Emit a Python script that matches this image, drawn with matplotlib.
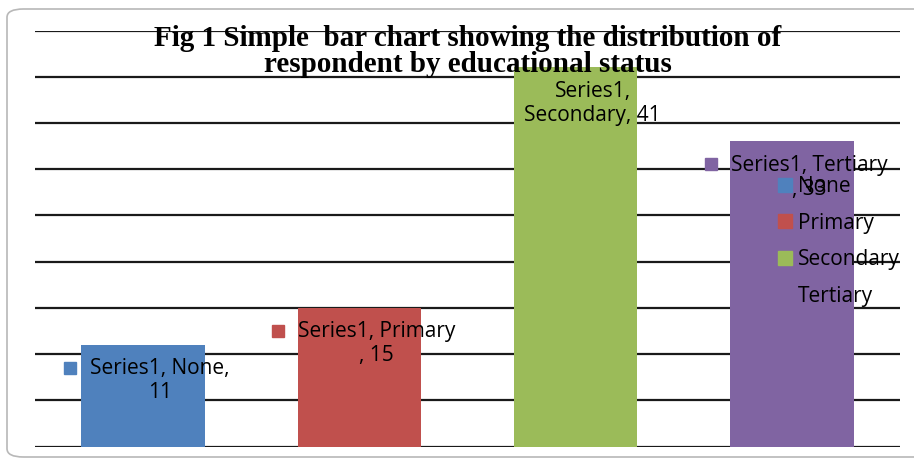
import matplotlib.pyplot as plt
from matplotlib.patches import FancyBboxPatch

# data
categories = ['None', 'Primary', 'Secondary', 'Tertiary']
values = [11, 15, 41, 33]
colors = ['#4F81BD', '#C0504D', '#9BBB59', '#8064A2']
# data labels, wrapped the way the original wraps them
label_line1 = ['Series1, None,', 'Series1, Primary', 'Series1,', 'Series1, Tertiary']
label_line2 = ['11', ', 15', 'Secondary, 41', ', 33']
title = 'Fig 1 Simple  bar chart showing the distribution of\nrespondent by educational status'

W, H = 914, 463
fig = plt.figure(figsize=(W / 100, H / 100), dpi=100)

# rounded frame of the chart area
frame = FancyBboxPatch((7 / W, 6 / H), 1.2, (454 - 6) / H,
                       boxstyle='round,pad=0,rounding_size=0.018',
                       transform=fig.transFigure, fill=False,
                       edgecolor='#b8b8b8', linewidth=1.2)
fig.patches.append(frame)

ax = fig.add_axes([35 / W, (H - 446.7) / H, (900 - 35) / W, (446.7 - 30.5) / H])
x = range(len(categories))
bars = ax.bar(x, values, width=0.57, color=colors, zorder=2)
ax.set_xlim(-0.5, 3.5)
ax.set_ylim(0, 45)
ax.set_yticks(range(0, 50, 5))
ax.grid(axis='y', color='#1a1a1a', linewidth=1.6, zorder=1)
ax.tick_params(left=False, bottom=False, labelleft=False, labelbottom=False)
for s in ax.spines.values():
    s.set_visible(False)

font = 'Open Sans'
fs = 15
line1_txt = []
for i, v in enumerate(values):
    t1 = ax.annotate(label_line1[i], (i, v), xytext=(17, -24), textcoords='offset pixels',
                     ha='center', va='center', fontsize=fs, family=font, zorder=5)
    ax.annotate(label_line2[i], (i, v), xytext=(17, -48), textcoords='offset pixels',
                ha='center', va='center', fontsize=fs, family=font, zorder=5)
    line1_txt.append(t1)

# small key squares to the left of each data label
fig.canvas.draw()
r = fig.canvas.get_renderer()
inv = ax.transData.inverted()
for i, t in enumerate(line1_txt):
    bb = t.get_window_extent(r)
    px, py = bb.x0 - 20, (bb.y0 + bb.y1) / 2 + 1
    dx, dy = inv.transform((px, py))
    ax.plot(dx, dy, marker='s', markersize=8.5, color=colors[i], zorder=6, clip_on=False)

# legend
handles = [plt.Rectangle((0, 0), 1, 1, color=c) for c in colors]
fig.legend(handles, categories, loc='upper left', bbox_to_anchor=(770 / W, 1 - 168 / H),
           frameon=False, prop={'family': font, 'size': fs}, handlelength=0.65,
           handleheight=0.65, handletextpad=0.3, labelspacing=0.74, borderaxespad=0)

fig.text(468 / W, 1 - 51.5 / H, title, ha='center', va='center', fontsize=21,
         family='Liberation Serif', fontweight='bold', linespacing=0.96, zorder=10)

fig.savefig('out.png', dpi=100)
